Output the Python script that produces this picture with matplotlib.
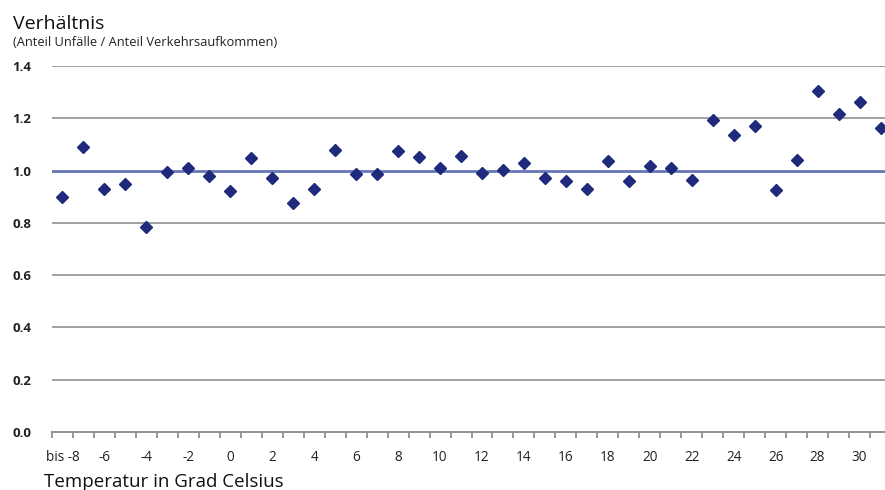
import numpy as np
import matplotlib
matplotlib.use("Agg")
import matplotlib.pyplot as plt

plt.rcParams['font.family'] = ['Open Sans', 'DejaVu Sans']

# Temperatur-Klassen (erste Klasse = "bis -8")
temps = list(range(-8, 32))
ratio = [0.90, 1.09, 0.93, 0.95, 0.785, 0.995, 1.01, 0.98, 0.92, 1.047,
         0.97, 0.875, 0.928, 1.08, 0.985, 0.987, 1.074, 1.051, 1.011, 1.056,
         0.99, 1.004, 1.029, 0.972, 0.961, 0.931, 1.037, 0.959, 1.018, 1.011,
         0.964, 1.194, 1.135, 1.171, 0.925, 1.042, 1.303, 1.215, 1.264, 1.164]
ytick_vals = [0.0, 0.2, 0.4, 0.6, 0.8, 1.0, 1.2, 1.4]
xtick_vals = list(range(-8, 31, 2))
xtick_labels = ['bis -8'] + [str(t) for t in xtick_vals[1:]]

fig = plt.figure(figsize=(8.85, 4.9), dpi=100)
ax = fig.add_axes([52/885, 58/490, (891-52)/885, (432-66)/490])

for v in ytick_vals[1:]:
    if v == 1.0:
        continue
    ax.axhline(v, color='#a0a0a0', lw=1.4, zorder=1)
ax.axhline(1.0, color='#6675b5', lw=2.0, zorder=2)

ax.plot(temps, ratio, 'D', color='#1f2a7d', markersize=5.8, zorder=3, clip_on=False)

ax.set_xlim(-8.5, 31.5)
ax.set_ylim(0, 1.4)

for s in ['top', 'right', 'left']:
    ax.spines[s].set_visible(False)
ax.spines['bottom'].set_color('#909090')
ax.spines['bottom'].set_linewidth(1.4)

ax.set_yticks(ytick_vals)
ax.set_yticklabels(['%.1f' % v for v in ytick_vals], fontsize=9.5, fontweight='bold',
                   color='#222222')
ax.tick_params(axis='y', length=0, pad=15)

ax.set_xticks(xtick_vals)
ax.set_xticklabels(xtick_labels, fontsize=9.8, color='#222222')
ax.set_xticks(np.arange(-8.5, 32, 1), minor=True)
ax.tick_params(axis='x', which='major', length=0, pad=13)
ax.tick_params(axis='x', which='minor', length=4, width=1.3, color='#909090', direction='out')

fig.text(13/885, 1 - 29/490, 'Verhältnis', fontsize=14, color='#111111')
fig.text(13/885, 1 - 46/490, '(Anteil Unfälle / Anteil Verkehrsaufkommen)', fontsize=9.3,
         color='#222222')
fig.text(44/885, 1 - 487/490, 'Temperatur in Grad Celsius', fontsize=13.5, color='#111111')

fig.savefig('out.png', dpi=100)
